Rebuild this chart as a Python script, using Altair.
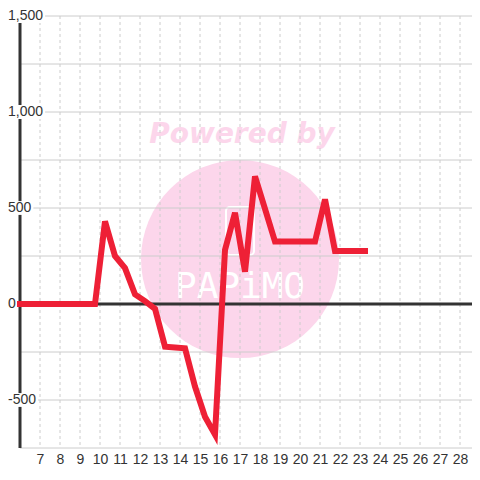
import altair as alt
import pandas as pd

# ---- data ----
x_pos = [6, 9.75, 10.25, 10.75, 11.25, 11.75, 12.25, 12.75, 13.25, 13.75, 14.25,
         14.75, 15.25, 15.75, 16.25, 16.75, 17.25, 17.75, 18.25, 18.75, 19.25,
         19.75, 20.25, 20.75, 21.25, 21.75, 22.25, 22.75, 23.25]
values = [0, 0, 430, 250, 187, 50, 15, -25, -222, -226, -231,
          -430, -587, -680, 281, 475, 168, 665, 495, 325, 325,
          325, 325, 325, 545, 276, 276, 276, 276]
x_ticks = list(range(7, 29))
y_grid = [-750, -500, -250, 0, 250, 500, 750, 1000, 1250, 1500]
y_labels = [1500, 1000, 500, 0, -500]
y_label_text = ["1,500", "1,000", "500", "0", "-500"]

PLOT_W = 452
PX_PER_X = 20.0
X_DOMAIN = [6, 6 + PLOT_W / PX_PER_X]
Y_DOMAIN = [-750, 1500]
RED = "#ee2036"
DARK = "#333333"
GRID = "#cccccc"
PINK = "#fcd6eb"
FONT = "Liberation Sans"

xs = alt.Scale(domain=X_DOMAIN, nice=False, zero=False)
ys = alt.Scale(domain=Y_DOMAIN, nice=False, zero=False)
xaxis = alt.Axis(values=x_ticks, grid=False, domain=False, ticks=False,
                 labelFont=FONT, labelFontSize=14, labelColor=DARK,
                 labelPadding=4, title=None, format="d",
                 labelFlush=False, labelOverlap=False)

line_df = pd.DataFrame({"x": x_pos, "v": values})
hgrid_df = pd.DataFrame({"v": y_grid})
vgrid_df = pd.DataFrame({"x": x_ticks})

# label widths (approx., 14px Arial metrics) for white label backgrounds
char_w = {",": 3.9, "-": 4.7}
def text_w(s):
    return sum(char_w.get(c, 7.8) for c in s)

label_x0 = 5.4
lab_df = pd.DataFrame({
    "v": y_labels,
    "t": y_label_text,
})
lab_df["x0"] = label_x0
lab_df["x1"] = [label_x0 + (text_w(t) + 2) / PX_PER_X for t in y_label_text]
lab_df["y0"] = [v - 36 for v in y_labels]
lab_df["y1"] = [v + 36 for v in y_labels]

# watermark ("Powered by PAPiMO")
wm_df = pd.DataFrame({"x": [17.0], "v": [234]})
wm_text_df = pd.DataFrame({"x": [17.1], "v": [838], "t": ["Powered by"]})
wm_logo_df = pd.DataFrame({"x": [17.0], "v": [88], "t": ["PAPiMO"]})
wm_icon_df = pd.DataFrame({"x0": [16.3], "x1": [17.7], "v0": [255], "v1": [505]})

base_x = alt.X("x:Q", scale=xs, axis=xaxis)

circle = alt.Chart(wm_df).mark_point(shape="circle", filled=True, size=39204,
                                     color=PINK, opacity=1).encode(
    x=base_x, y=alt.Y("v:Q", scale=ys, axis=None))

wm_text = alt.Chart(wm_text_df).mark_text(
    font="DejaVu Sans", fontWeight="bold", fontStyle="italic", fontSize=28,
    color=PINK, align="center", baseline="alphabetic").encode(
    x=base_x, y=alt.Y("v:Q", scale=ys, axis=None), text="t:N")

wm_logo = alt.Chart(wm_logo_df).mark_text(
    font="DejaVu Sans Mono", fontSize=36, color="white",
    align="center", baseline="middle").encode(
    x=base_x, y=alt.Y("v:Q", scale=ys, axis=None), text="t:N")

wm_icon = alt.Chart(wm_icon_df).mark_rect(
    filled=False, stroke="white", strokeWidth=2, cornerRadius=4).encode(
    x=alt.X("x0:Q", scale=xs, axis=xaxis), x2="x1:Q",
    y=alt.Y("v0:Q", scale=ys, axis=None), y2="v1:Q")

hgrid = alt.Chart(hgrid_df).mark_rule(color=GRID, strokeWidth=1).encode(
    y=alt.Y("v:Q", scale=ys, axis=None))

vgrid = alt.Chart(vgrid_df).mark_rule(color=GRID, strokeWidth=1,
                                      strokeDash=[3, 3]).encode(
    x=base_x)

zero_rule = alt.Chart(pd.DataFrame({"v": [0]})).mark_rule(
    color=DARK, strokeWidth=3).encode(y=alt.Y("v:Q", scale=ys, axis=None))

y_axis_rule = alt.Chart(pd.DataFrame({"x": [X_DOMAIN[0]]})).mark_rule(
    color=DARK, strokeWidth=3).encode(x=base_x)

lab_bg = alt.Chart(lab_df).mark_rect(color="white").encode(
    x=alt.X("x0:Q", scale=xs, axis=xaxis), x2="x1:Q",
    y=alt.Y("y0:Q", scale=ys, axis=None), y2="y1:Q")

lab_text = alt.Chart(lab_df).mark_text(
    font=FONT, fontSize=14, color=DARK, align="left", baseline="middle").encode(
    x=alt.X("x0:Q", scale=xs, axis=xaxis),
    y=alt.Y("v:Q", scale=ys, axis=None), text="t:N")

line = alt.Chart(line_df).mark_line(
    color=RED, strokeWidth=6, strokeCap="square", strokeJoin="miter").encode(
    x=base_x, y=alt.Y("v:Q", scale=ys, axis=None))

chart = alt.layer(
    circle, wm_text, wm_logo, wm_icon,
    hgrid, vgrid, zero_rule, y_axis_rule, lab_bg, lab_text, line
).properties(
    width=PLOT_W, height=432, autosize="none",
    padding={"left": 12, "top": 8, "right": 0, "bottom": 22},
    background="white"
).configure_view(stroke=None)

chart.save("out.html", embed_options={"renderer": "svg", "actions": False})
